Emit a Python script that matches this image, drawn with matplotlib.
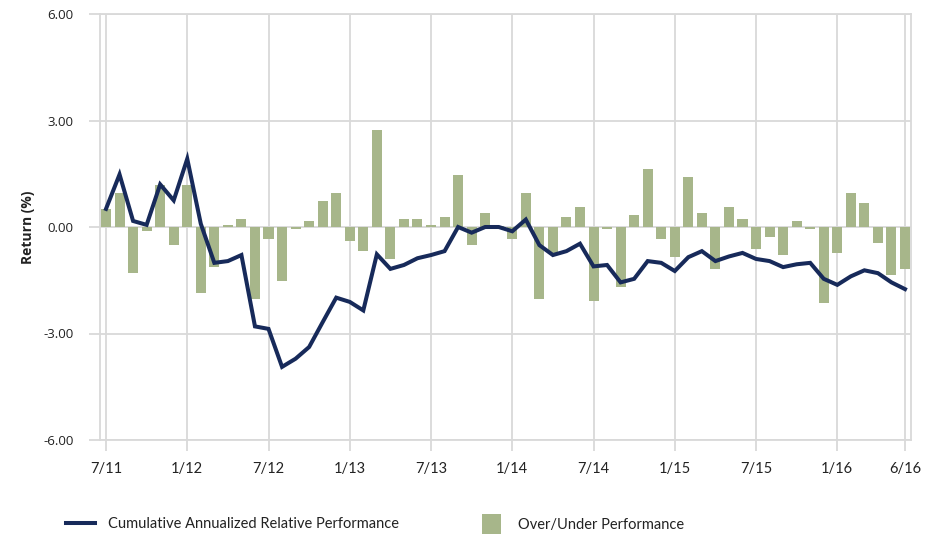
import matplotlib
matplotlib.use("Agg")
import matplotlib.pyplot as plt
from matplotlib.lines import Line2D
from matplotlib.patches import Patch
import numpy as np

# Monthly periods, Jul 2011 through Jun 2016
months = [f"{m}/{y}" for y, ms in [(11, range(7, 13)), (12, range(1, 13)), (13, range(1, 13)),
                                    (14, range(1, 13)), (15, range(1, 13)), (16, range(1, 7))]
          for m in ms]

# Monthly over/under performance (%)
over_under = [0.51, 0.96, -1.30, -0.11, 1.18, -0.51,
              1.18, -1.86, -1.13, 0.06, 0.23, -2.03, -0.34, -1.52, -0.06, 0.17, 0.73, 0.96,
              -0.39, -0.68, 2.72, -0.90, 0.23, 0.23, 0.06, 0.28, 1.46, -0.51, 0.39, 0.03,
              -0.34, 0.96, -2.03, -0.73, 0.28, 0.56, -2.08, -0.06, -1.69, 0.34, 1.63, -0.34,
              -0.85, 1.41, 0.39, -1.18, 0.56, 0.23, -0.62, -0.28, -0.79, 0.17, -0.06, -2.14,
              -0.73, 0.96, 0.68, -0.45, -1.35, -1.18]

# Cumulative annualized relative performance (%)
cumulative = [0.51, 1.48, 0.17, 0.06, 1.20, 0.75,
              1.92, 0.09, -1.01, -0.96, -0.79, -2.80, -2.87, -3.94, -3.71, -3.38, -2.68, -1.99,
              -2.11, -2.35, -0.77, -1.18, -1.07, -0.88, -0.79, -0.68, 0.00, -0.16, 0.00, 0.00,
              -0.12, 0.21, -0.51, -0.79, -0.68, -0.47, -1.11, -1.07, -1.56, -1.46, -0.96, -1.01,
              -1.24, -0.85, -0.68, -0.96, -0.83, -0.73, -0.90, -0.96, -1.13, -1.05, -1.01, -1.46,
              -1.63, -1.39, -1.22, -1.30, -1.56, -1.75]

tick_labels = ["7/11", "1/12", "7/12", "1/13", "7/13", "1/14", "7/14", "1/15", "7/15", "1/16", "6/16"]
y_ticks = [-6, -3, 0, 3, 6]

line_color = "#172A5A"
bar_color = "#A7B68A"
grid_color = "#D9D9D9"

fig = plt.figure(figsize=(9.4, 5.34), dpi=100)
ax = fig.add_axes([100 / 940, 1 - 440 / 534, 811 / 940, 426 / 534])

x = np.arange(len(months))
ax.bar(x, over_under, width=0.74, color=bar_color, zorder=2)
ax.plot(x, cumulative, color=line_color, lw=2.9, zorder=3, solid_joinstyle="miter")

tick_pos = [months.index(t) for t in tick_labels]
ax.set_xticks(tick_pos)
ax.set_xticklabels(tick_labels, fontfamily="Lato", fontsize=10.5, color="#222222")
ax.set_yticks(y_ticks)
ax.set_yticklabels([f"{v:.2f}" for v in y_ticks], fontfamily="Open Sans", fontsize=9.5,
                   color="#222222")
ax.set_xlim(-0.443, len(months) - 1 + 0.443)
ax.set_ylim(-6, 6)

ax.grid(True, color=grid_color, lw=1.3, zorder=0)
ax.set_axisbelow(True)
for s in ax.spines.values():
    s.set_color(grid_color)
    s.set_linewidth(1.3)

ax.tick_params(axis="x", length=8, width=1.3, color=grid_color, pad=8)
ax.tick_params(axis="y", length=8, width=1.3, color=grid_color, pad=11)

ax.set_ylabel("Return (%)", fontfamily="Open Sans", fontweight="bold", fontsize=10,
              color="#222222")
ax.yaxis.set_label_coords(-0.080, 0.5)

# Legend entries, laid out side by side beneath the chart
line_handle = Line2D([], [], color=line_color, lw=2.9)
bar_handle = Patch(facecolor=bar_color, edgecolor="none")
leg_kw = dict(frameon=False, prop={"family": "Lato", "size": 10.5}, labelcolor="#222222",
              borderaxespad=0, borderpad=0)
fig.legend([line_handle], ["Cumulative Annualized Relative Performance"],
           loc="center left", bbox_to_anchor=(66 / 940, 1 - 524 / 534),
           handlelength=2.0, handletextpad=0.9, **leg_kw)
fig.legend([bar_handle], ["Over/Under Performance"],
           loc="center left", bbox_to_anchor=(482 / 940, 1 - 524 / 534),
           handlelength=1.3, handleheight=1.7, handletextpad=1.15, **leg_kw)

fig.savefig("out.png", dpi=100)
